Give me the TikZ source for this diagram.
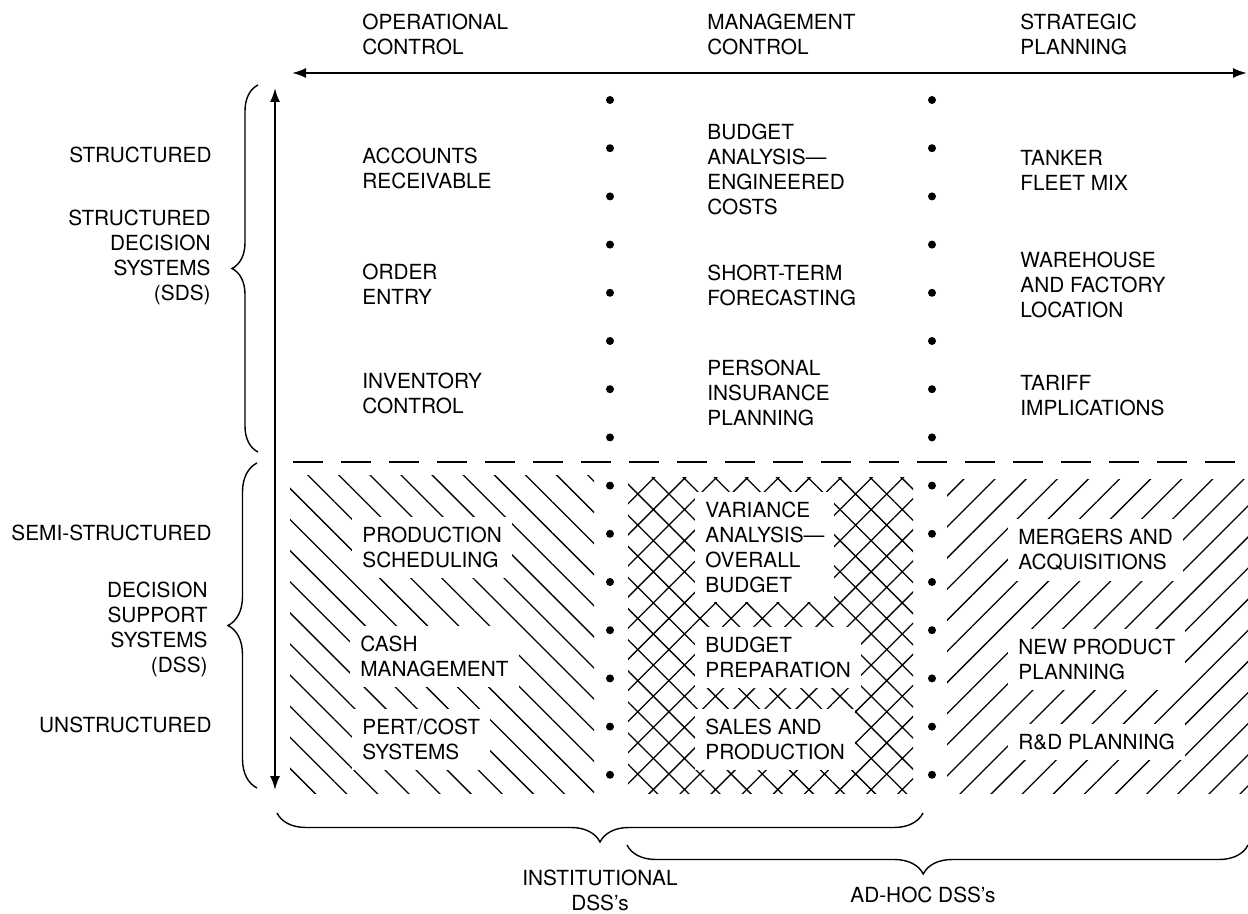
\documentclass[tikz,border=0pt]{standalone}
\usepackage{fontspec}
\setmainfont{TeX Gyre Heros}
\usetikzlibrary{positioning}
\usetikzlibrary{arrows.meta}
\usetikzlibrary{patterns.meta}
\usetikzlibrary{decorations.pathreplacing}

\begin{document}
\begin{tikzpicture}
          [x=0.5pt, y=-0.5pt,
           font=\fontsize{10.4}{12.5}\selectfont,
           >={Latex[length=7pt, width=5pt]},
           every node/.style={align=left, inner sep=0pt},
           head/.style={anchor=west},
           side/.style={anchor=east, align=right},
           item/.style={anchor=west, fill=white, inner sep=5pt},
           brc/.style={decorate, line width=0.7pt, decoration={brace, amplitude=#1}}]
          \useasboundingbox (0,0) rectangle (1248,914);

          \fill[pattern={Lines[angle=-45, distance=11pt, line width=0.65pt]}] (290,476) rectangle (594,793);
          \fill[pattern={Hatch[angle=45, distance=11pt, line width=0.65pt]}] (628,478) rectangle (913,793);
          \fill[pattern={Lines[angle=45, distance=11pt, line width=0.65pt]}] (947,480) rectangle (1248,793);

          \node (oc) [head] at (362,34.5) {OPERATIONAL\\CONTROL};
          \node (mc) [head] at (707,34.5) {MANAGEMENT\\CONTROL};
          \node (sp) [head] at (1020,34.5) {STRATEGIC\\PLANNING};

          \node (st) [side] at (212,155) {STRUCTURED};
          \node (sds) [side] at (211,257.5) {STRUCTURED\\DECISION\\SYSTEMS\\(SDS)};
          \node (ss) [side] at (212,533) {SEMI-STRUCTURED};
          \node (dss) [side] at (208,629.5) {DECISION\\SUPPORT\\SYSTEMS\\(DSS)};
          \node (us) [side] at (212,725) {UNSTRUCTURED};

          \node (ar) [item] at (352,168) {ACCOUNTS\\RECEIVABLE};
          \node (oe) [item] at (352,284.5) {ORDER\\ENTRY};
          \node (ic) [item] at (352,393) {INVENTORY\\CONTROL};
          \node (ps) [item] at (352,547.5) {PRODUCTION\\SCHEDULING};
          \node (cm) [item] at (350,656.5) {CASH\\MANAGEMENT};
          \node (pc) [item] at (352,739.5) {PERT/COST\\SYSTEMS};

          \node (ba) [item] at (697,169.5) {BUDGET\\ANALYSIS---\\ENGINEERED\\COSTS};
          \node (sf) [item] at (697,285.5) {SHORT-TERM\\FORECASTING};
          \node (pi) [item] at (697,393) {PERSONAL\\INSURANCE\\PLANNING};
          \node (va) [item] at (695,547) {VARIANCE\\ANALYSIS---\\OVERALL\\BUDGET};
          \node (bp) [item] at (695,657.5) {BUDGET\\PREPARATION};
          \node (sa) [item] at (695,739.5) {SALES AND\\PRODUCTION};

          \node (tf) [item] at (1010,170.5) {TANKER\\FLEET MIX};
          \node (wf) [item] at (1010,285) {WAREHOUSE\\AND FACTORY\\LOCATION};
          \node (ti) [item] at (1010,395.5) {TARIFF\\IMPLICATIONS};
          \node (ma) [item] at (1008,550) {MERGERS AND\\ACQUISITIONS};
          \node (np) [item] at (1008,659.5) {NEW PRODUCT\\PLANNING};
          \node (rd) [item] at (1008,742) {R\&D PLANNING};

          \node (ins) [align=center] at (600,890.5) {INSTITUTIONAL\\DSS's};
          \node (adh) at (923,895) {AD-HOC DSS's};

          \coordinate (hl) at (292,73);
          \coordinate (hr) at (1247,73);
          \coordinate (vt) at (275,88);
          \coordinate (vb) at (275,790);
          \coordinate (dl) at (293,462);
          \coordinate (dr) at (1248,462);

          \draw[<->, line width=1pt] (hl) -- (hr);
          \draw[<->, line width=1pt] (vt) -- (vb);
          \draw[line width=1pt, dash pattern=on 15pt off 9pt] (dl) -- (dr);

          \foreach \k in {0,...,14} {
            \fill (610,100+48.2*\k) circle[radius=2pt];
            \fill (932,100+48.2*\k) circle[radius=2pt];
          }

          \draw[brc=13pt] (258,452) -- (258,85);
          \draw[brc=14.5pt] (257,788) -- (257,463);
          \draw[brc=14.5pt] (923,813) -- (277,813);
          \draw[brc=14.5pt, decoration={aspect=0.523}] (1248,845) -- (627,845);
        \end{tikzpicture}
\end{document}
